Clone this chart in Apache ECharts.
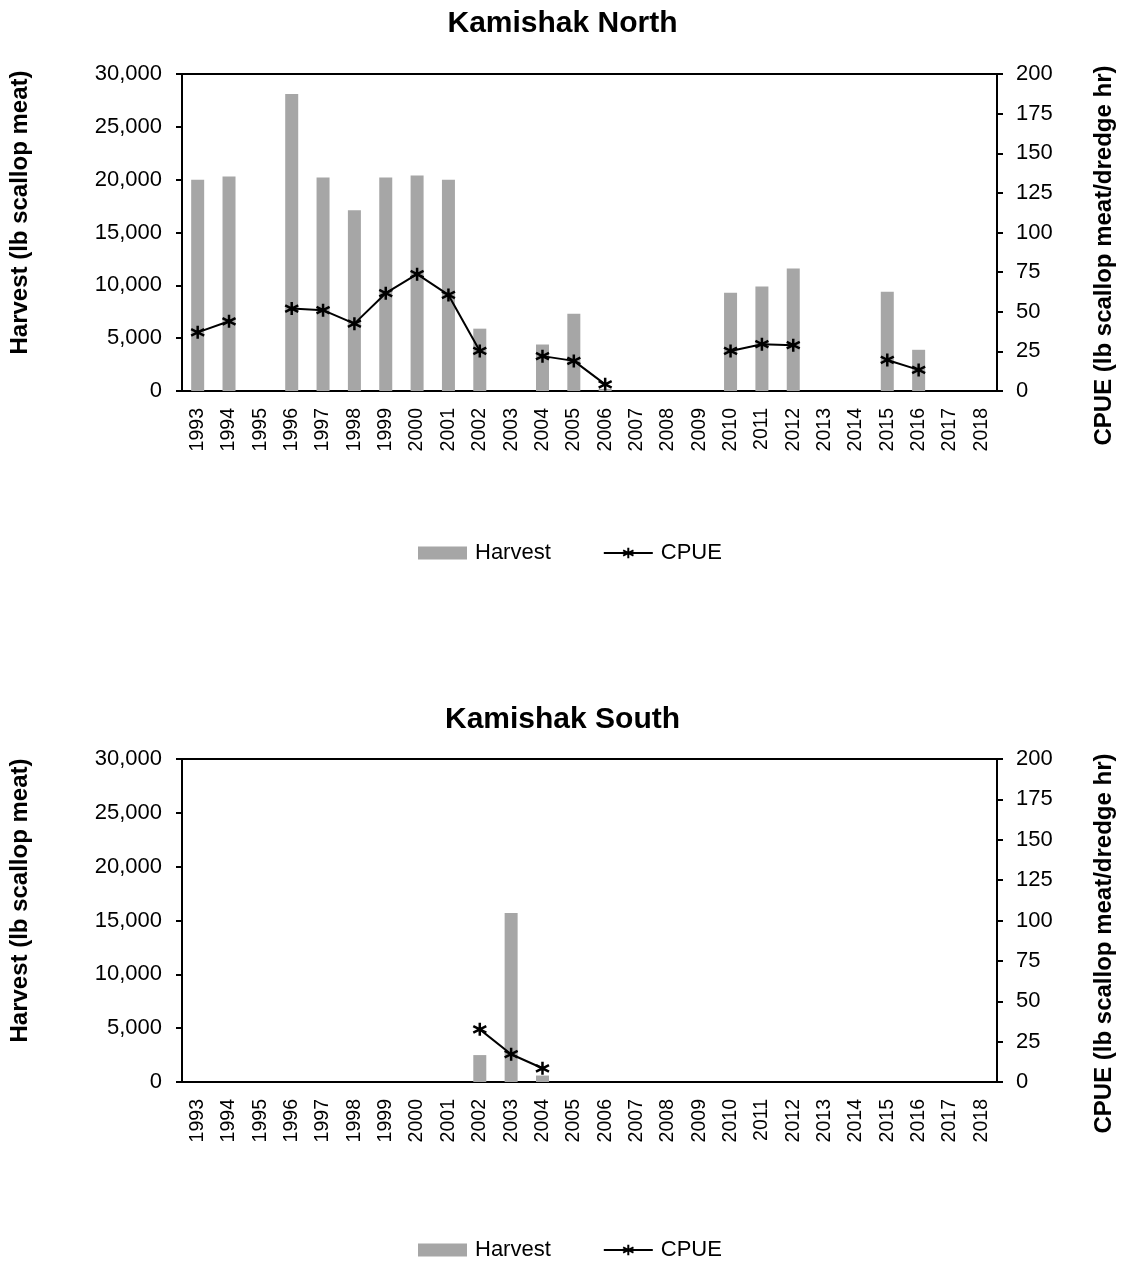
<!DOCTYPE html>
<html>
<head>
<meta charset="utf-8">
<title>Kamishak</title>
<script src="https://cdn.jsdelivr.net/npm/echarts@6/dist/echarts.min.js"></script>
<style>
  html, body { margin: 0; padding: 0; background: #fff; }
  #chart { width: 1125px; height: 1262px; }
</style>
</head>
<body>
<div id="chart"></div>
<script>
// years along the x axis
var years = ['1993','1994','1995','1996','1997','1998','1999','2000','2001','2002','2003','2004','2005',
             '2006','2007','2008','2009','2010','2011','2012','2013','2014','2015','2016','2017','2018'];

// Kamishak North
var northHarvest = [20000, 20300, null, 28100, 20200, 17100, 20200, 20400, 20000, 5900, null, 4400, 7300,
                    200, null, null, null, 9300, 9900, 11600, null, null, 9400, 3900, null, null];
var northCpue = [37, 44, null, 52, 51, 42.5, 61.7, 73.7, 60.6, 25.3, null, 22, 19,
                 4.2, null, null, null, 25.3, 29.5, 28.9, null, null, 19.6, 13.3, null, null];

// Kamishak South
var southHarvest = [null, null, null, null, null, null, null, null, null, 2500, 15700, 600, null,
                    null, null, null, null, null, null, null, null, null, null, null, null, null];
var southCpue = [null, null, null, null, null, null, null, null, null, 32.6, 17.2, 8.5, null,
                 null, null, null, null, null, null, null, null, null, null, null, null, null];

var titles = ['Kamishak North', 'Kamishak South'];

var FONT = "'Liberation Sans', Arial, sans-serif";
var starPath = 'path://M0,-10L0,10M-8.66,-5L8.66,5M-8.66,5L8.66,-5';

function commas(v) {
  return String(v).replace(/\B(?=(\d{3})+(?!\d))/g, ',');
}

var gridTops = [74, 759];
var gridHeights = [317, 323];
var titleTops = [9, 705];
var legendTops = [537, 1234];

var option = {
  animation: false,
  textStyle: { fontFamily: FONT, color: '#000' },
  title: [], legend: [], grid: [], xAxis: [], yAxis: [], series: []
};

[0, 1].forEach(function (i) {
  var top = gridTops[i];
  option.title.push({
    text: titles[i], left: 'center', top: titleTops[i], padding: 0,
    textStyle: { fontFamily: FONT, fontSize: 30, fontWeight: 'bold', color: '#000' }
  });
  option.grid.push({
    left: 182, width: 815, top: top, height: gridHeights[i],
    show: true, borderColor: '#000', borderWidth: 2, backgroundColor: 'transparent'
  });
  // main category axis (labels + outside ticks)
  option.xAxis.push({
    type: 'category', data: years, gridIndex: i, position: 'bottom',
    axisLine: { lineStyle: { color: '#000', width: 2 } },
    axisTick: { length: 6, lineStyle: { color: '#000', width: 2 } },
    axisLabel: { rotate: 90, margin: 17, fontSize: 19.5, color: '#000', fontFamily: FONT }
  });
  // second copy only for the ticks that cross into the plot
  option.xAxis.push({
    type: 'category', data: years, gridIndex: i, position: 'bottom',
    axisLine: { show: false },
    axisTick: { inside: true, length: 5, lineStyle: { color: '#000', width: 2 } },
    axisLabel: { show: false }
  });
  option.yAxis.push({
    type: 'value', gridIndex: i, position: 'left', min: 0, max: 30000, interval: 5000,
    name: 'Harvest (lb scallop meat)', nameLocation: 'middle', nameRotate: 90, nameGap: 150,
    nameMoveOverlap: false,
    nameTextStyle: { fontSize: 24, fontWeight: 'bold', color: '#000', fontFamily: FONT, padding: [0, 0, 0, 40] },
    axisLine: { show: true, lineStyle: { color: '#000', width: 2 } },
    axisTick: { show: true, length: 6, lineStyle: { color: '#000', width: 2 } },
    axisLabel: { margin: 20, fontSize: 22, color: '#000', fontFamily: FONT, formatter: commas },
    splitLine: { show: false }
  });
  option.yAxis.push({
    type: 'value', gridIndex: i, position: 'right', min: 0, max: 200, interval: 25,
    name: 'CPUE (lb scallop meat/dredge hr)', nameLocation: 'middle', nameRotate: 90, nameGap: 95,
    nameMoveOverlap: false,
    nameTextStyle: { fontSize: 24, fontWeight: 'bold', color: '#000', fontFamily: FONT, padding: [0, 46, 0, 0] },
    axisLine: { show: true, lineStyle: { color: '#000', width: 2 } },
    axisTick: { show: true, length: 6, lineStyle: { color: '#000', width: 2 } },
    axisLabel: { margin: 19, fontSize: 22, color: '#000', fontFamily: FONT },
    splitLine: { show: false }
  });
  option.legend.push({
    data: [{ name: 'Harvest', icon: 'rect' }, { name: 'CPUE' }],
    left: 413, top: legendTops[i],
    itemWidth: 49, itemHeight: 13, itemGap: 52,
    textStyle: { fontSize: 22, color: '#000', fontFamily: FONT, padding: [0, 0, 0, 3] }
  });
  option.series.push({
    name: 'Harvest', type: 'bar', xAxisIndex: i * 2, yAxisIndex: i * 2,
    data: i === 0 ? northHarvest : southHarvest,
    barWidth: 13, itemStyle: { color: '#a6a6a6' }
  });
  option.series.push({
    name: 'CPUE', type: 'line', xAxisIndex: i * 2, yAxisIndex: i * 2 + 1,
    data: i === 0 ? northCpue : southCpue,
    symbol: starPath, symbolSize: 13, showAllSymbol: true,
    lineStyle: { color: '#000', width: 2 },
    itemStyle: { color: '#000', borderColor: '#000', borderWidth: 2.5 },
    z: 3
  });
});

var chart = echarts.init(document.getElementById('chart'));
chart.setOption(option);
</script>
</body>
</html>
